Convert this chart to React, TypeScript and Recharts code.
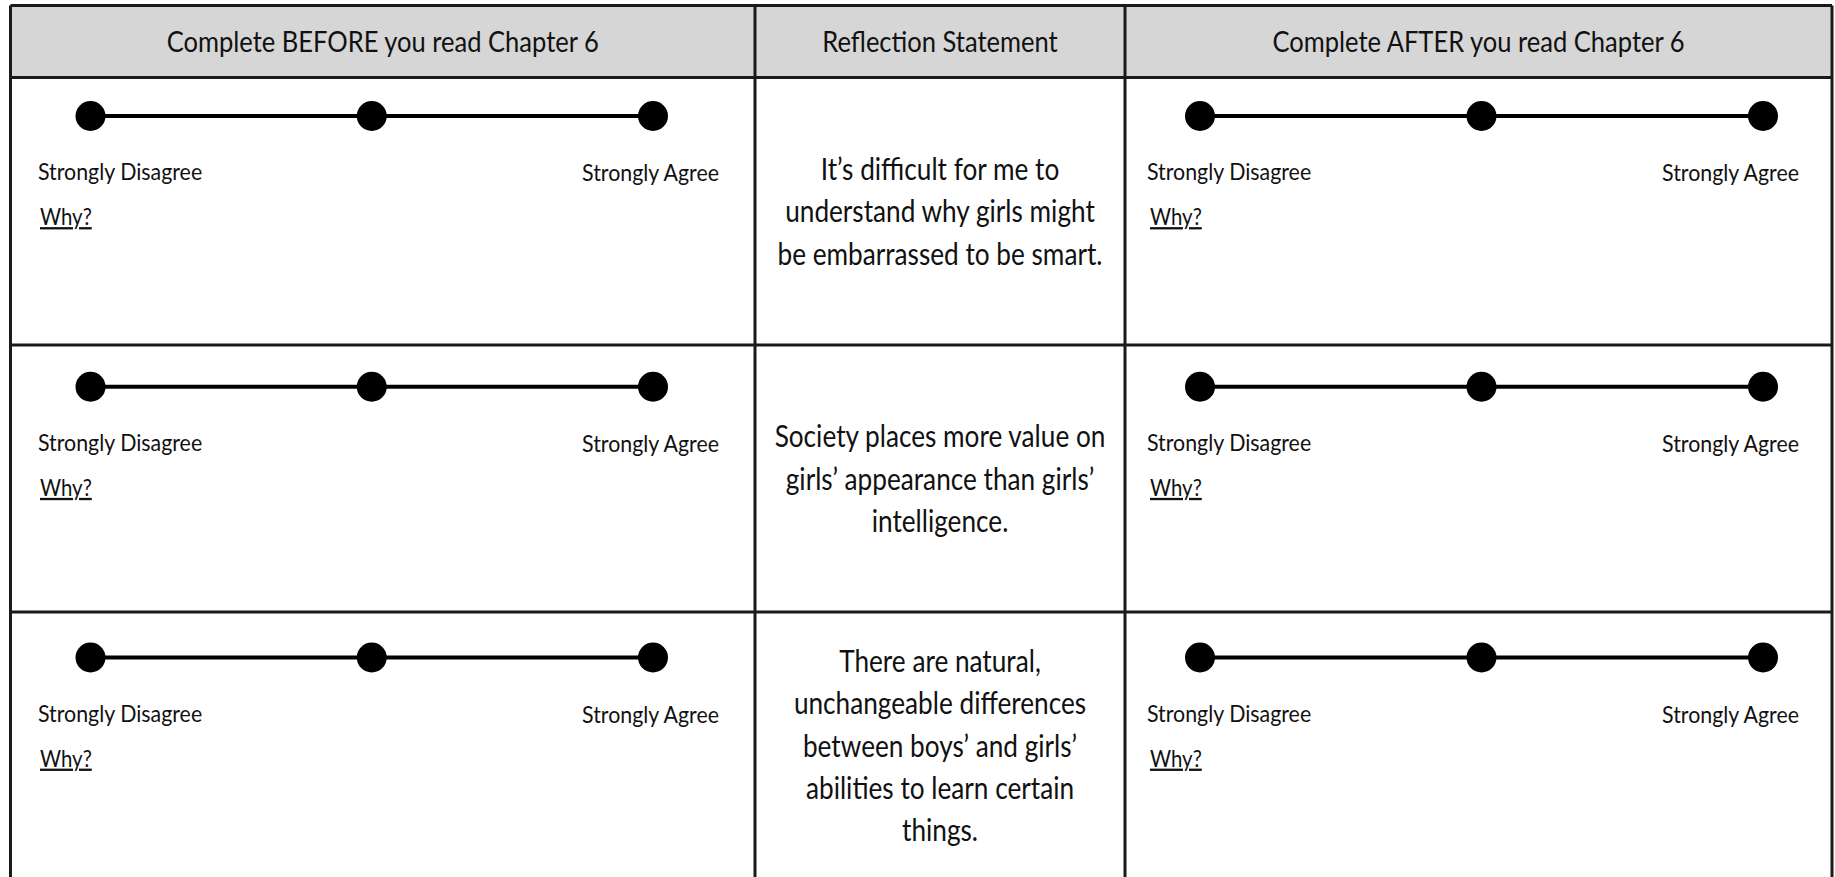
import React from "react"
import { ScatterChart, Scatter, XAxis, YAxis, Customized } from "recharts"

// table content
const headers = ["Complete BEFORE you read Chapter 6", "Reflection Statement", "Complete AFTER you read Chapter 6"]
const statements = [
    ["It’s difficult for me to", "understand why girls might", "be embarrassed to be smart."],
    ["Society places more value on", "girls’ appearance than girls’", "intelligence."],
    ["There are natural,", "unchangeable differences", "between boys’ and girls’", "abilities to learn certain", "things."],
]
const scalePoints = [1, 2, 3]
const scaleLabels = ["Strongly Disagree", "Strongly Agree"]
const whyLabel = "Why?"
const rows = [1, 2, 3]
const sides = ["before", "after"]

// layout (pixels)
const W = 1835
const H = 877
const LEFT = 10.5
const RIGHT = 1832
const COLS = [755, 1125]
const TOP = 5.5
const HEAD = 77.5
const ROW_LINES = [345, 612]
const ROW_BOTTOM = 879
const ROW_Y0 = 116
const ROW_STEP = 270.75
const SCALE = {
    before: { x0: 90.5, step: 281.25, disagreeX: 38, agreeEnd: 719, whyX: 40 },
    after: { x0: 1200, step: 281.5, disagreeX: 1147, agreeEnd: 1799, whyX: 1150 },
}
const FONT = "Lato, 'Open Sans', sans-serif"
const INK = "#111"

const xDomain = (s: { x0: number; step: number }) => [1 - s.x0 / s.step, 1 + (W - s.x0) / s.step]
const rowDomain = [1 - ROW_Y0 / ROW_STEP, 1 + (H - ROW_Y0) / ROW_STEP]
const rowY = (r: number) => ROW_Y0 + (r - 1) * ROW_STEP

// Lato squeezed horizontally to stand in for a condensed face
const T = ({ x, y, size, sx, anchor = "start", underline = false, children }: any) => (
    <text
        transform={`translate(${x},${y}) scale(${sx},1)`}
        textAnchor={anchor}
        fontSize={size}
        fontFamily={FONT}
        fill={INK}
        textDecoration={underline ? "underline" : undefined}
    >
        {children}
    </text>
)

const Grid = () => (
    <g>
        <rect x={LEFT} y={TOP} width={RIGHT - LEFT} height={HEAD - TOP} fill="#d6d6d6" />
        <g stroke="#1a1a1a" strokeWidth={3}>
            <line x1={LEFT} y1={TOP} x2={RIGHT} y2={TOP} />
            <line x1={LEFT} y1={HEAD} x2={RIGHT} y2={HEAD} />
            {ROW_LINES.map((y) => <line key={y} x1={LEFT} y1={y} x2={RIGHT} y2={y} />)}
            {[LEFT, ...COLS, RIGHT].map((x) => <line key={x} x1={x} y1={TOP} x2={x} y2={H + 5} />)}
        </g>
    </g>
)

const Texts = () => {
    const colCenters = [(LEFT + COLS[0]) / 2, (COLS[0] + COLS[1]) / 2, (COLS[1] + RIGHT) / 2]
    const rowTops = [HEAD, ...ROW_LINES]
    const rowBottoms = [...ROW_LINES, ROW_BOTTOM]
    return (
        <g>
            {headers.map((h, i) => (
                <T key={h} x={colCenters[i]} y={51.5} size={28} sx={0.912} anchor="middle">{h}</T>
            ))}
            {statements.map((lines, i) => {
                const mid = (rowTops[i] + rowBottoms[i]) / 2
                return lines.map((line, j) => (
                    <T key={line} x={colCenters[1]} y={mid + 11 + (j - (lines.length - 1) / 2) * 42.4} size={31} sx={0.845} anchor="middle">
                        {line}
                    </T>
                ))
            })}
            {sides.map((side) =>
                rows.map((r) => {
                    const s = SCALE[side as keyof typeof SCALE]
                    const y = rowY(r)
                    return (
                        <g key={side + r}>
                            <T x={s.disagreeX} y={y + 64} size={24} sx={0.89}>{scaleLabels[0]}</T>
                            <T x={s.agreeEnd} y={y + 65} size={24} sx={0.89} anchor="end">{scaleLabels[1]}</T>
                            <T x={s.whyX} y={y + 109} size={23} sx={0.887} underline>{whyLabel}</T>
                        </g>
                    )
                })
            )}
        </g>
    )
}

const Dot = (props: any) => <circle cx={props.cx} cy={props.cy} r={15} fill="#000" />

const App = () => (
    <div style={{ position: "absolute", left: 0, top: 0, width: W, height: H, background: "#fff" }}>
        <ScatterChart width={W} height={H} margin={{ top: 0, right: 0, bottom: 0, left: 0 }}>
            <XAxis xAxisId="before" type="number" dataKey="pos" domain={xDomain(SCALE.before)} allowDataOverflow hide />
            <XAxis xAxisId="after" type="number" dataKey="pos" domain={xDomain(SCALE.after)} allowDataOverflow hide />
            <YAxis yAxisId="rows" type="number" dataKey="row" domain={rowDomain} reversed allowDataOverflow hide />
            <Customized component={Grid} />
            {sides.map((side) =>
                rows.map((r) => (
                    <Scatter
                        key={side + r}
                        xAxisId={side}
                        yAxisId="rows"
                        data={scalePoints.map((p) => ({ pos: p, row: r }))}
                        fill="#000"
                        line={{ stroke: "#000", strokeWidth: 4 }}
                        shape={Dot}
                        isAnimationActive={false}
                    />
                ))
            )}
            <Customized component={Texts} />
        </ScatterChart>
    </div>
)

export default App
